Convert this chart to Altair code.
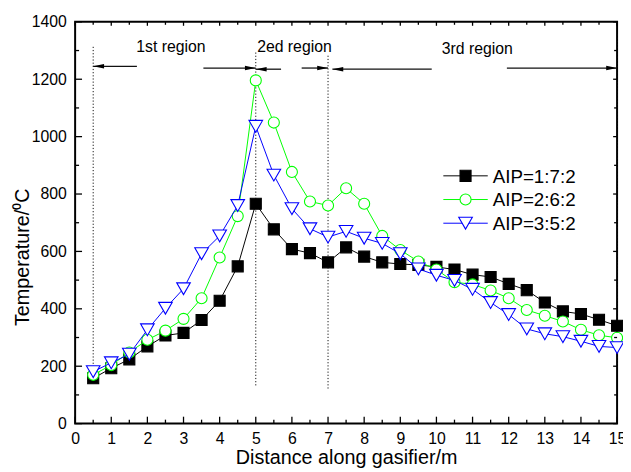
import altair as alt
import pandas as pd

# ---------------- data ----------------
distance = [0.5, 1.0, 1.5, 2.0, 2.5, 3.0, 3.5, 4.0, 4.5, 5.0,
            5.5, 6.0, 6.5, 7.0, 7.5, 8.0, 8.5, 9.0, 9.5, 10.0,
            10.5, 11.0, 11.5, 12.0, 12.5, 13.0, 13.5, 14.0, 14.5, 15.0]
aip_172 = [158, 193, 224, 269, 307, 316, 361, 428, 548, 766,
           677, 608, 594, 562, 614, 582, 562, 556, 553, 546,
           537, 519, 511, 487, 465, 422, 391, 382, 362, 341]
aip_262 = [170, 204, 248, 292, 324, 365, 437, 579, 723, 1196,
           1049, 877, 774, 760, 820, 766, 654, 605, 565, 537,
           493, 485, 464, 437, 396, 376, 356, 327, 308, 299]
aip_352 = [181, 212, 242, 327, 402, 470, 592, 654, 760, 1036,
           866, 749, 679, 650, 670, 646, 628, 592, 539, 517,
           499, 468, 422, 380, 330, 313, 303, 287, 269, 265]
series_values = [aip_172, aip_262, aip_352]
series_names = ["AIP=1:7:2", "AIP=2:6:2", "AIP=3:5:2"]
series_colors = ["#000000", "#00FF00", "#0000FF"]
series_fills = ["#000000", "#FFFFFF", "#FFFFFF"]
series_shapes = ["square", "circle", "triangle-down"]
series_sizes = [125, 125, 190]

x_ticks_major = [0, 1, 2, 3, 4, 5, 6, 7, 8, 9, 10, 11, 12, 13, 14, 15]
x_ticks_minor = [0.5, 1.5, 2.5, 3.5, 4.5, 5.5, 6.5, 7.5, 8.5, 9.5,
                 10.5, 11.5, 12.5, 13.5, 14.5]
y_ticks_major = [0, 200, 400, 600, 800, 1000, 1200, 1400]
y_ticks_minor = [100, 300, 500, 700, 900, 1100, 1300]

bound_x = [0.5, 5.0, 7.0, 15.0]
bound_top = [1313, 1293, 1282, 1356]
bound_bottom = [160, 131, 118, 193]

region_labels = ["1st region", "2ed region", "3rd region"]
region_label_x = [2.65, 6.07, 11.13]
region_label_y = [1311, 1311, 1305]

arrow_from = [1.71, 3.55, 5.70, 6.27, 9.87, 11.95]
arrow_to = [0.5, 5.0, 5.0, 7.0, 7.12, 15.0]
arrow_y = [1245, 1239, 1235, 1239, 1235, 1239]

# ---------------- layout ----------------
W, H = 549, 407
FONT = "Liberation Sans"

xs = alt.Scale(domain=[0, 15], nice=False, zero=False)
ys = alt.Scale(domain=[0, 1400], nice=False, zero=False)

xaxis = alt.Axis(title="Distance along gasifier/m", values=x_ticks_major, format="d",
                 grid=False, domain=False, ticks=False, tickSize=0,
                 labelFont=FONT, labelFontSize=16, labelColor="black",
                 labelPadding=7, labelFlush=False, labelOverlap=False,
                 titleFont=FONT, titleFontSize=20, titleFontWeight="normal",
                 titleColor="black", titlePadding=1)
yaxis = alt.Axis(title="Temperature/\u2070C", values=y_ticks_major, format="d",
                 grid=False, domain=False, ticks=False, tickSize=0,
                 labelFont=FONT, labelFontSize=16, labelColor="black",
                 labelPadding=9, labelFlush=False, labelOverlap=False,
                 titleFont=FONT, titleFontSize=20, titleFontWeight="normal",
                 titleColor="black", titleX=-43, titleY=238)

layers = []

# region boundary dotted lines
bounds_df = pd.DataFrame({"x": bound_x, "top": bound_top, "bottom": bound_bottom})
layers.append(alt.Chart(bounds_df).mark_rule(color="#111111", strokeWidth=1, strokeDash=[1.2, 2]).encode(
    x=alt.X("x:Q", scale=xs, axis=xaxis),
    y=alt.Y("top:Q", scale=ys, axis=yaxis),
    y2="bottom:Q"))

# arrows
arrows_df = pd.DataFrame({"from": arrow_from, "to": arrow_to, "y": arrow_y})
layers.append(alt.Chart(arrows_df).mark_rule(color="#111111", strokeWidth=1.3).encode(
    x=alt.X("from:Q", scale=xs, axis=xaxis), x2="to:Q",
    y=alt.Y("y:Q", scale=ys, axis=yaxis)))
right_df = arrows_df[arrows_df["to"] > arrows_df["from"]]
left_df = arrows_df[arrows_df["to"] < arrows_df["from"]]
layers.append(alt.Chart(right_df).mark_point(filled=True, opacity=1, color="black", size=121,
                                             shape="M0,0L-2,-0.42L-2,0.42Z").encode(
    x=alt.X("to:Q", scale=xs, axis=xaxis), y=alt.Y("y:Q", scale=ys, axis=yaxis)))
layers.append(alt.Chart(left_df).mark_point(filled=True, opacity=1, color="black", size=121,
                                            shape="M0,0L2,-0.42L2,0.42Z").encode(
    x=alt.X("to:Q", scale=xs, axis=xaxis), y=alt.Y("y:Q", scale=ys, axis=yaxis)))

# region labels
labels_df = pd.DataFrame({"label": region_labels, "x": region_label_x, "y": region_label_y})
layers.append(alt.Chart(labels_df).mark_text(font=FONT, fontSize=16, color="black",
                                             align="center", baseline="middle").encode(
    x=alt.X("x:Q", scale=xs, axis=xaxis), y=alt.Y("y:Q", scale=ys, axis=yaxis), text="label:N"))

# series: line then symbols, in order
for name, vals, col, fill, shp, sz in zip(series_names, series_values, series_colors,
                                          series_fills, series_shapes, series_sizes):
    df = pd.DataFrame({"distance": distance, "temperature": vals})
    enc = dict(x=alt.X("distance:Q", scale=xs, axis=xaxis),
               y=alt.Y("temperature:Q", scale=ys, axis=yaxis))
    layers.append(alt.Chart(df).mark_line(color=col, strokeWidth=1).encode(**enc))
    layers.append(alt.Chart(df).mark_point(shape=shp, size=sz, filled=True, fill=fill,
                                           stroke=col, strokeWidth=1.1, opacity=1).encode(**enc))

# inner ticks on all four sides
def xticks(vals, y0, y1):
    return alt.Chart(pd.DataFrame({"v": vals})).mark_rule(color="black", strokeWidth=1.3).encode(
        x=alt.X("v:Q", scale=xs, axis=xaxis), y=alt.value(y0), y2=alt.value(y1))

def yticks(vals, x0, x1):
    return alt.Chart(pd.DataFrame({"v": vals})).mark_rule(color="black", strokeWidth=1.3).encode(
        y=alt.Y("v:Q", scale=ys, axis=yaxis), x=alt.value(x0), x2=alt.value(x1))

layers += [xticks(x_ticks_major, H, H - 7), xticks(x_ticks_minor, H, H - 4),
           xticks(x_ticks_major, 0, 4), xticks(x_ticks_minor, 0, 3),
           yticks(y_ticks_major, 0, 7), yticks(y_ticks_minor, 0, 4),
           yticks(y_ticks_major, W, W - 4), yticks(y_ticks_minor, W, W - 3)]

# legend (inside the plot, upper right)
for i, (name, col, fill, shp, sz) in enumerate(zip(series_names, series_colors, series_fills,
                                                   series_shapes, series_sizes)):
    ly = 156 + 24 * i
    dummy = pd.DataFrame({"label": [name]})
    layers.append(alt.Chart(dummy).mark_rule(color=col, strokeWidth=1).encode(
        x=alt.value(373), x2=alt.value(418), y=alt.value(ly)))
    layers.append(alt.Chart(dummy).mark_point(shape=shp, size=sz, filled=True, fill=fill,
                                              stroke=col, strokeWidth=1.1, opacity=1).encode(
        x=alt.value(395.5), y=alt.value(ly)))
    layers.append(alt.Chart(dummy).mark_text(font=FONT, fontSize=19, color="black",
                                             align="left", baseline="middle").encode(
        x=alt.value(423), y=alt.value(ly + 1), text="label:N"))

chart = alt.layer(*layers).properties(
    width=W, height=H,
    padding={"left": 68, "top": 11, "right": 6, "bottom": 46},
    autosize=alt.AutoSizeParams(type="none"),
    background="white",
).configure_view(stroke="black", strokeWidth=2)

chart.save("out.html", embed_options={"renderer": "svg", "actions": False})
